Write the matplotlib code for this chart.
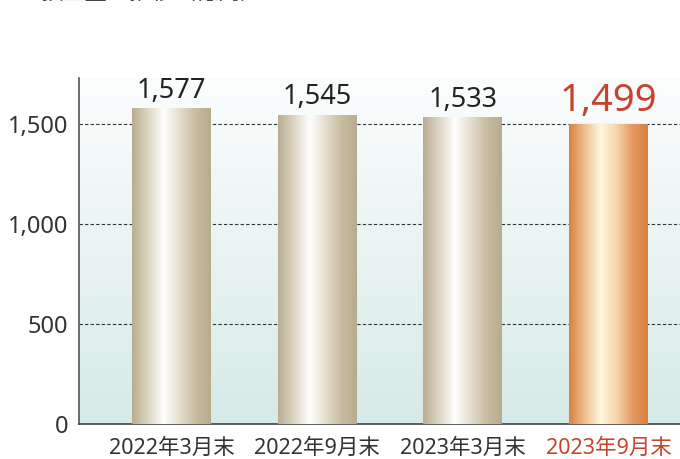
import numpy as np
import matplotlib.pyplot as plt
from matplotlib.colors import LinearSegmentedColormap

plt.rcParams['font.family'] = ['Noto Sans', 'Noto Sans CJK JP', 'DejaVu Sans']

# データ
categories = ['2022年3月末', '2022年9月末', '2023年3月末', '2023年9月末']
values = [1577, 1545, 1533, 1499]
value_labels = ['1,577', '1,545', '1,533', '1,499']
highlight = 3

gold = LinearSegmentedColormap.from_list(
    'gold', ['#b9ad90', '#ddd5c3', '#ffffff', '#e6dfcf', '#c9bda2', '#b8ab8d'])
copper = LinearSegmentedColormap.from_list(
    'copper', ['#d9823f', '#efbf8e', '#fff6df', '#f6d7ad', '#e69a61', '#d9813f'])
bg = LinearSegmentedColormap.from_list('bg', ['#d6eae8', '#fbfdfd'])

fig = plt.figure(figsize=(6.8, 4.59), dpi=100)
ax = fig.add_axes([79 / 680, 35 / 459, 601 / 680, 346 / 459])

ymax = 1730
ax.set_xlim(-0.635, 3.49)
ax.set_ylim(0, ymax)

# 背景グラデーション
grad = np.linspace(0, 1, 256).reshape(-1, 1)
ax.imshow(grad, cmap=bg, aspect='auto', origin='lower',
          extent=[-0.635, 3.49, 0, ymax], zorder=0)

for y in [500, 1000, 1500]:
    ax.axhline(y, color='#333333', lw=0.8, ls=(0, (3, 2)), zorder=1)

x = np.arange(len(categories))
bars = ax.bar(x, values, width=0.542, color='none', zorder=2)
hgrad = np.linspace(0, 1, 256).reshape(1, -1)
for i, b in enumerate(bars):
    cm = copper if i == highlight else gold
    ax.imshow(hgrad, cmap=cm, aspect='auto',
              extent=[b.get_x(), b.get_x() + b.get_width(), 0, b.get_height()],
              zorder=3)

for i, (v, lab) in enumerate(zip(values, value_labels)):
    if i == highlight:
        ax.text(i, v + 20, lab, ha='center', va='bottom', fontsize=27.5,
                color='#c8432b', fontweight='semibold')
    else:
        ax.text(i, v + 18, lab, ha='center', va='bottom', fontsize=19.5,
                color='#222222')

ax.set_yticks([0, 500, 1000, 1500])
ax.set_yticklabels(['0', '500', '1,000', '1,500'])
ax.set_xticks(x)
ax.set_xticklabels(categories)
ax.tick_params(axis='both', length=0, colors='#333333')
ax.tick_params(axis='x', pad=10, labelsize=15.5)
ax.tick_params(axis='y', pad=8, labelsize=17)
ax.get_xticklabels()[highlight].set_color('#c8432b')

ax.spines['top'].set_visible(False)
ax.spines['right'].set_visible(False)
ax.spines['left'].set_color('#555555')
ax.spines['bottom'].set_color('#444444')
ax.spines['left'].set_linewidth(1.2)
ax.spines['bottom'].set_linewidth(1.2)

# 上端で切れているタイトル
fig.text(40 / 680, 1.0 + 7 / 459, '預金量の推移（億円）', fontsize=16,
         color='#444444', va='center', ha='left')

fig.savefig('out.png', dpi=100)
